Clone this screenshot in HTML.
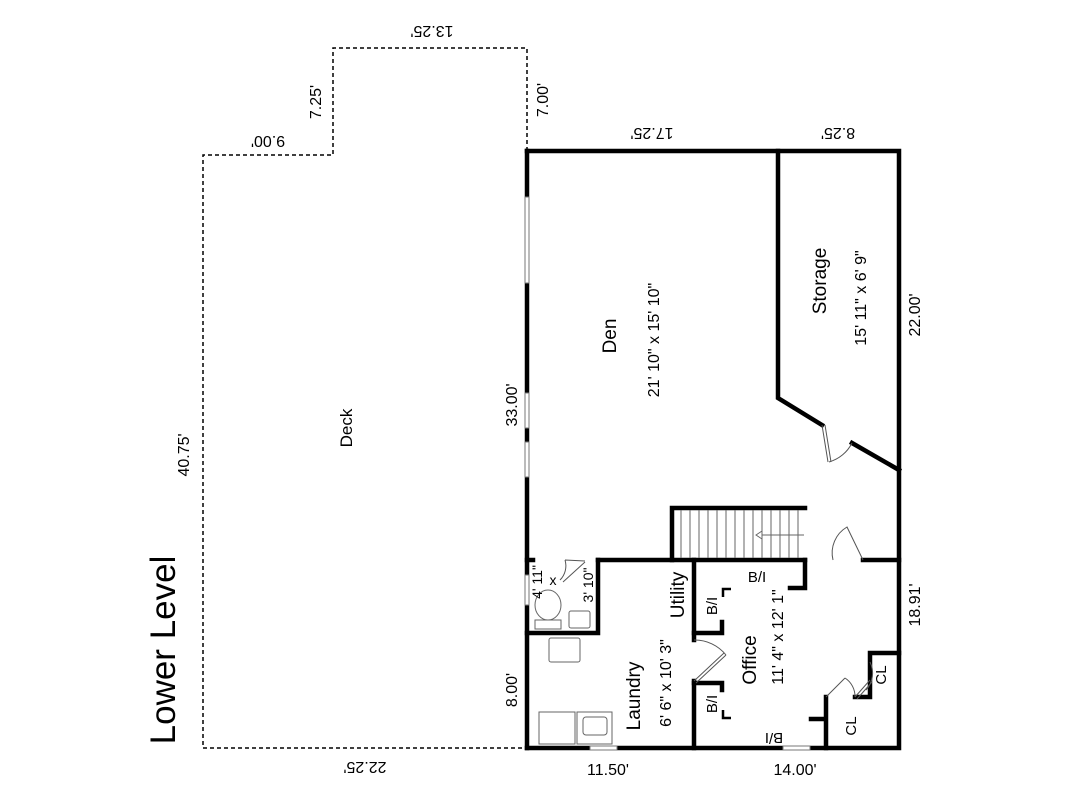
<!DOCTYPE html>
<html><head><style>
html,body{margin:0;padding:0;background:#fff;}
svg{display:block;}
text{font-family:"Liberation Sans",sans-serif;fill:#000;}
</style></head><body>
<svg width="1067" height="800" viewBox="0 0 1067 800" xmlns="http://www.w3.org/2000/svg">
<path d="M527,151 L527,48 L333,48 L333,155 L203,155 L203,748 L527,748" fill="none" stroke="#000" stroke-width="1.5" stroke-dasharray="4,3"/>
<g stroke="#000" stroke-width="4.5" fill="none" stroke-linecap="square">
<path d="M527,151 L899,151 L899,748 L527,748"/>
<path d="M527,151 L527,197 M527,283 L527,393 M527,428 L527,442 M527,477 L527,748"/>
<path d="M778,151 L778,398 L822,425 M852,443 L899,470"/>
<path d="M672,560 L672,508 L805,508"/>
<path d="M527,560 L533,560 M598,560 L805,560 M863,560 L899,560"/>
<path d="M598,560 L598,633 L527,633"/>
<path d="M694,560 L694,640 M694,681 L694,748"/>
<path d="M805,560 L805,588 L790,588"/>
<path d="M694,633 L722,633 L722,622"/>
<path d="M694,683 L722,683 L722,690"/>
<path d="M899,653 L870,653 L870,697 L855,697 M826,697 L826,748 M811,719 L826,719"/>
</g>
<g stroke="#000" stroke-width="2.5" fill="none">
<path d="M731,589 L723,589 L723,597"/><path d="M723,710 L723,718 L731,718"/>
</g>
<g stroke="#777" stroke-width="1" fill="#fff">
<rect x="525" y="197" width="4" height="86"/><rect x="525" y="393" width="4" height="35"/><rect x="525" y="442" width="4" height="35"/>
<rect x="590" y="746" width="27" height="4"/><rect x="783" y="746" width="27" height="4"/>
<rect x="525" y="575" width="4" height="30"/>
</g>
<g stroke="#666" stroke-width="1">
<path d="M681,510 V558 M690,510 V558 M699,510 V558 M708,510 V558 M717,510 V558 M726,510 V558 M735,510 V558 M744,510 V558 M753,510 V558 M762,510 V558 M771,510 V558 M780,510 V558 M789,510 V558 M798,510 V558"/>
<path d="M756,535 H804" /><path d="M756,535 L762,531 L762,539 Z" fill="#fff"/>
</g>
<g stroke="#555" stroke-width="1" fill="none">
<path d="M822,425 L828,462 M825,425 L831,462"/><path d="M829,462 A37,37 0 0 0 852,443"/>
<path d="M833,560 A30,30 0 0 1 847,527 L863,560"/>
<path d="M694,681 L724,653 M696,683 L726,655 M694,640 A40,40 0 0 1 726,655"/>
<path d="M565,560 L585,561 M585,562 L563,582 M565,560 A20,20 0 0 1 560,580"/>
<path d="M855,697 L870,680 M857,699 L872,682 M870,662 A25,25 0 0 1 866,690"/>
<path d="M826,697 L845,678 M845,678 A22,22 0 0 1 855,697"/>
</g>
<g stroke="#666" stroke-width="1" fill="#fff">
<ellipse cx="548" cy="605" rx="13" ry="15"/><rect x="535" y="620" width="26" height="9"/>
<rect x="569" y="611" width="21" height="17" rx="2"/>
<rect x="549" y="638" width="31" height="24" rx="2"/>
<rect x="539" y="712" width="36" height="32"/><rect x="577" y="712" width="35" height="32"/><rect x="583" y="717" width="24" height="18" rx="3"/>
</g>
<g font-size="16">
<text transform="translate(432,26) rotate(180)" text-anchor="middle">13.25'</text>
<text transform="translate(268,136) rotate(180)" text-anchor="middle">9.00'</text>
<text transform="translate(652,128) rotate(180)" text-anchor="middle">17.25'</text>
<text transform="translate(838,128) rotate(180)" text-anchor="middle">8.25'</text>
<text transform="translate(365,762) rotate(180)" text-anchor="middle">22.25'</text>
<text transform="translate(321,102) rotate(-90)" text-anchor="middle">7.25'</text>
<text transform="translate(548,100) rotate(-90)" text-anchor="middle">7.00'</text>
<text transform="translate(189,455) rotate(-90)" text-anchor="middle">40.75'</text>
<text transform="translate(517,405) rotate(-90)" text-anchor="middle">33.00'</text>
<text transform="translate(920,315) rotate(-90)" text-anchor="middle">22.00'</text>
<text transform="translate(920,605) rotate(-90)" text-anchor="middle">18.91'</text>
<text transform="translate(517,690) rotate(-90)" text-anchor="middle">8.00'</text>
<text x="608" y="775" text-anchor="middle">11.50'</text>
<text x="795" y="775" text-anchor="middle">14.00'</text>
</g>
<text transform="translate(175,650) rotate(-90)" text-anchor="middle" font-size="35">Lower Level</text>
<text transform="translate(352,428) rotate(-90)" text-anchor="middle" font-size="17">Deck</text>
<text transform="translate(616,336) rotate(-90)" text-anchor="middle" font-size="19">Den</text>
<text transform="translate(659,340) rotate(-90)" text-anchor="middle" font-size="16">21' 10" x 15' 10"</text>
<text transform="translate(826,281) rotate(-90)" text-anchor="middle" font-size="19">Storage</text>
<text transform="translate(866,298) rotate(-90)" text-anchor="middle" font-size="16">15' 11" x 6' 9"</text>
<text transform="translate(684,595) rotate(-90)" text-anchor="middle" font-size="19">Utility</text>
<text transform="translate(640,696) rotate(-90)" text-anchor="middle" font-size="19">Laundry</text>
<text transform="translate(671,683) rotate(-90)" text-anchor="middle" font-size="16">6' 6" x 10' 3"</text>
<text transform="translate(756,660) rotate(-90)" text-anchor="middle" font-size="19">Office</text>
<text transform="translate(783,637) rotate(-90)" text-anchor="middle" font-size="16">11' 4" x 12' 1"</text>
<text x="757" y="582" text-anchor="middle" font-size="15">B/I</text>
<text transform="translate(717,606) rotate(-90)" text-anchor="middle" font-size="15">B/I</text>
<text transform="translate(717,704) rotate(-90)" text-anchor="middle" font-size="15">B/I</text>
<text transform="translate(774,733) rotate(180)" text-anchor="middle" font-size="15">B/I</text>
<text transform="translate(886,675) rotate(-90)" text-anchor="middle" font-size="15">CL</text>
<text transform="translate(856,726) rotate(-90)" text-anchor="middle" font-size="15">CL</text>
<text transform="translate(542,582) rotate(-90)" text-anchor="middle" font-size="14">4' 11"</text>
<text x="553" y="585" text-anchor="middle" font-size="14">x</text>
<text transform="translate(593,585) rotate(-90)" text-anchor="middle" font-size="14">3' 10"</text>
</svg>
</body></html>
